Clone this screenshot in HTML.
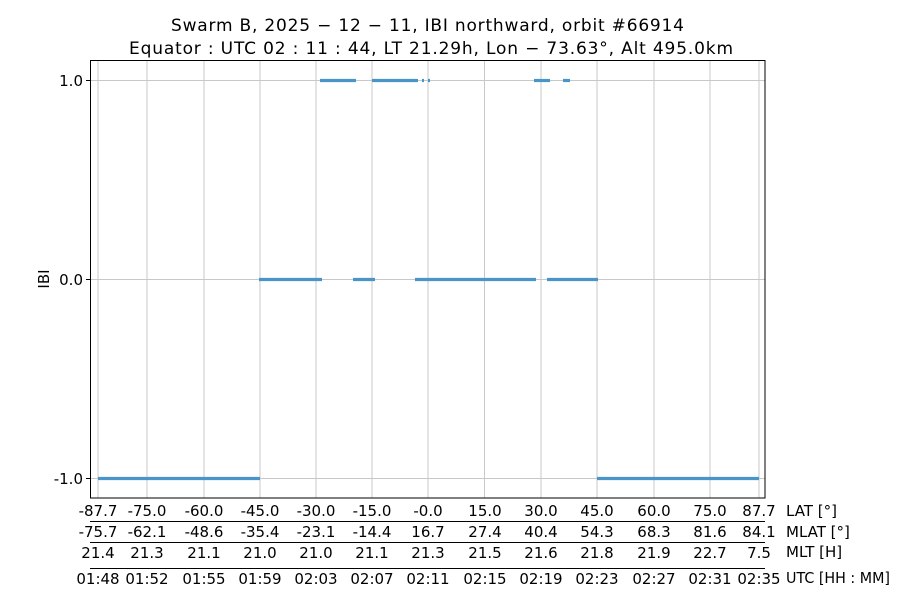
<!DOCTYPE html>
<html><head><meta charset="utf-8"><style>body{margin:0;background:#fff}svg{display:block}text{font-family:"DejaVu Sans","Liberation Sans",sans-serif;fill:#000}</style></head>
<body>
<svg width="900" height="600" xmlns="http://www.w3.org/2000/svg">
<text x="171" y="31" font-size="17" textLength="513" lengthAdjust="spacing">Swarm B,  2025 − 12 − 11,  IBI northward,  orbit #66914</text>
<text x="129" y="54" font-size="17" textLength="604" lengthAdjust="spacing">Equator :  UTC 02 : 11 : 44,  LT 21.29h,  Lon  − 73.63°,  Alt 495.0km</text>
<g stroke="#c8c8c8" stroke-width="1">
<line x1="98" y1="60" x2="98" y2="498"/><line x1="147" y1="60" x2="147" y2="498"/><line x1="204" y1="60" x2="204" y2="498"/><line x1="260" y1="60" x2="260" y2="498"/><line x1="316" y1="60" x2="316" y2="498"/><line x1="372" y1="60" x2="372" y2="498"/><line x1="428" y1="60" x2="428" y2="498"/><line x1="484.5" y1="60" x2="484.5" y2="498"/><line x1="541" y1="60" x2="541" y2="498"/><line x1="597" y1="60" x2="597" y2="498"/><line x1="654" y1="60" x2="654" y2="498"/><line x1="710" y1="60" x2="710" y2="498"/><line x1="759" y1="60" x2="759" y2="498"/>
<line x1="90" y1="80.5" x2="765" y2="80.5"/><line x1="90" y1="279.5" x2="765" y2="279.5"/><line x1="90" y1="478.5" x2="765" y2="478.5"/>
</g>
<g stroke="#4a95c8" stroke-width="3.2">
<line x1="320" y1="80.5" x2="356" y2="80.5"/><line x1="372" y1="80.5" x2="418" y2="80.5"/><line x1="422" y1="80.5" x2="424" y2="80.5"/><line x1="428" y1="80.5" x2="430" y2="80.5"/><line x1="534" y1="80.5" x2="550" y2="80.5"/><line x1="563" y1="80.5" x2="570" y2="80.5"/>
<line x1="259" y1="279.5" x2="322" y2="279.5"/><line x1="353" y1="279.5" x2="375" y2="279.5"/><line x1="415" y1="279.5" x2="536" y2="279.5"/><line x1="547" y1="279.5" x2="598" y2="279.5"/>
<line x1="98" y1="478.5" x2="260" y2="478.5"/><line x1="597" y1="478.5" x2="759" y2="478.5"/>
</g>
<rect x="90.5" y="60.5" width="674.5" height="437.5" fill="none" stroke="#000" stroke-width="1"/>
<g stroke="#000"><line x1="86" y1="80.5" x2="90" y2="80.5"/><line x1="86" y1="279.5" x2="90" y2="279.5"/><line x1="86" y1="478.5" x2="90" y2="478.5"/></g>
<g font-size="15" text-anchor="end"><text x="83" y="86">1.0</text><text x="83" y="285">0.0</text><text x="83" y="484">-1.0</text></g>
<text transform="translate(49,279) rotate(-90)" font-size="15" text-anchor="middle">IBI</text>
<g stroke="#000"><line x1="90" y1="521.5" x2="765" y2="521.5"/><line x1="90" y1="542.5" x2="765" y2="542.5"/><line x1="90" y1="568.5" x2="765" y2="568.5"/></g>
<g font-size="15" text-anchor="middle">
<text x="98" y="516">-87.7</text><text x="147" y="516">-75.0</text><text x="204" y="516">-60.0</text><text x="260" y="516">-45.0</text><text x="316" y="516">-30.0</text><text x="372" y="516">-15.0</text><text x="428" y="516">-0.0</text><text x="485" y="516">15.0</text><text x="541" y="516">30.0</text><text x="597" y="516">45.0</text><text x="654" y="516">60.0</text><text x="710" y="516">75.0</text><text x="759" y="516">87.7</text>
<text x="98" y="537">-75.7</text><text x="147" y="537">-62.1</text><text x="204" y="537">-48.6</text><text x="260" y="537">-35.4</text><text x="316" y="537">-23.1</text><text x="372" y="537">-14.4</text><text x="428" y="537">16.7</text><text x="485" y="537">27.4</text><text x="541" y="537">40.4</text><text x="597" y="537">54.3</text><text x="654" y="537">68.3</text><text x="710" y="537">81.6</text><text x="759" y="537">84.1</text>
<text x="98" y="558">21.4</text><text x="147" y="558">21.3</text><text x="204" y="558">21.1</text><text x="260" y="558">21.0</text><text x="316" y="558">21.0</text><text x="372" y="558">21.1</text><text x="428" y="558">21.3</text><text x="485" y="558">21.5</text><text x="541" y="558">21.6</text><text x="597" y="558">21.8</text><text x="654" y="558">21.9</text><text x="710" y="558">22.7</text><text x="759" y="558">7.5</text>
<text x="98" y="584">01:48</text><text x="147" y="584">01:52</text><text x="204" y="584">01:55</text><text x="260" y="584">01:59</text><text x="316" y="584">02:03</text><text x="372" y="584">02:07</text><text x="428" y="584">02:11</text><text x="485" y="584">02:15</text><text x="541" y="584">02:19</text><text x="597" y="584">02:23</text><text x="654" y="584">02:27</text><text x="710" y="584">02:31</text><text x="759" y="584">02:35</text>
</g>
<g font-size="15"><text x="786" y="516">LAT [°]</text><text x="786" y="537">MLAT [°]</text><text x="786" y="557">MLT [H]</text><text x="786" y="583" textLength="104" lengthAdjust="spacingAndGlyphs">UTC [HH : MM]</text></g>
</svg>
</body></html>
